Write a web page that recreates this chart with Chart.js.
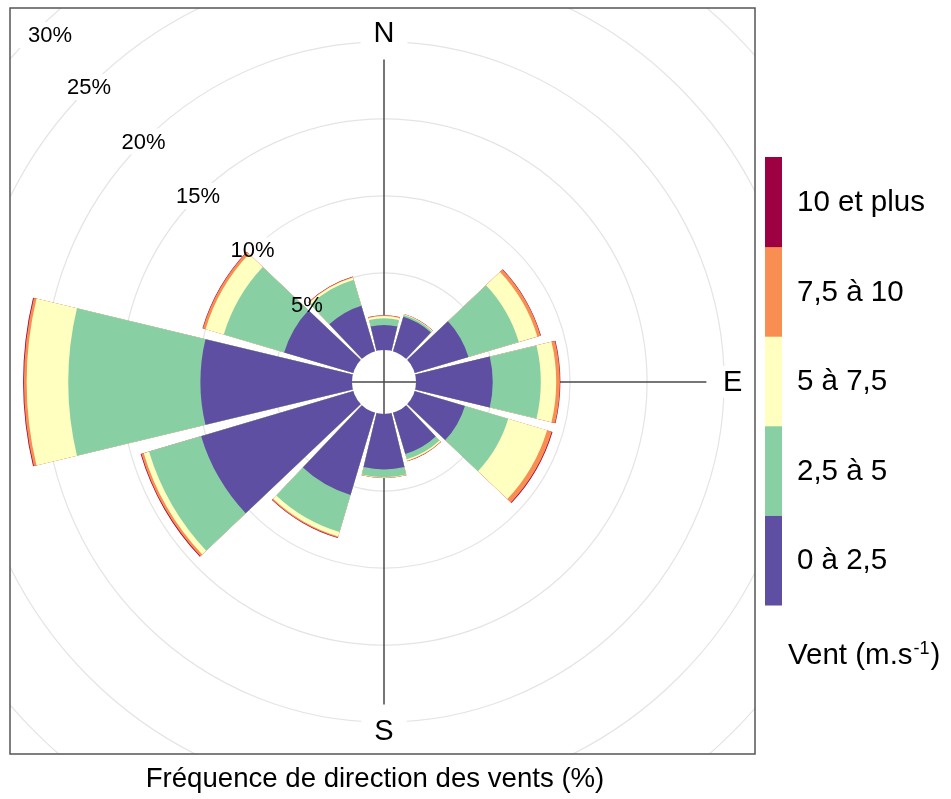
<!DOCTYPE html>
<html>
<head>
<meta charset="utf-8">
<script src="https://cdn.jsdelivr.net/npm/chart.js@4/dist/chart.umd.min.js"></script>
<style>
  html, body { margin: 0; padding: 0; background: #ffffff; }
  #wrap { width: 951px; height: 799px; position: relative; }
</style>
</head>
<body>
<div id="wrap"><canvas id="rose" width="951" height="799"></canvas></div>
<script>
// ---------- data ----------
const directions = [0, 30, 60, 90, 120, 150, 180, 210, 240, 270, 300, 330]; // sector centres, degrees
const speedBins = ['0 à 2,5', '2,5 à 5', '5 à 7,5', '7,5 à 10', '10 et plus'];
const binColors = ['#5E4FA2', '#89CFA4', '#FFFFBF', '#F88E52', '#9E0142'];
// frequency (%) per direction, per wind speed class
const freq_0_2_5   = [1.62, 2.34, 3.64, 4.98, 3.40, 2.80, 3.60, 5.57, 10.30, 9.84, 4.68, 3.08];
const freq_2_5_5   = [0.44, 0.11, 3.41, 3.12, 2.93, 0.35, 0.50, 2.51, 3.53, 8.58, 4.09, 1.77];
const freq_5_7_5   = [0.14, 0.05, 1.25, 1.00, 2.63, 0.10, 0.03, 0.30, 0.36, 2.70, 1.23, 0.15];
const freq_7_5_10  = [0.05, 0.02, 0.22, 0.24, 0.32, 0.03, 0.01, 0.07, 0.16, 0.18, 0.18, 0.05];
const freq_10_plus = [0.01, 0.01, 0.03, 0.03, 0.05, 0.01, 0.01, 0.04, 0.05, 0.05, 0.03, 0.01];
const radialTicks = [5, 10, 15, 20, 25, 30];
const compassLabels = [{ text: 'N', bearing: 0 }, { text: 'E', bearing: 90 }, { text: 'S', bearing: 180 }];
const titleText = 'Fréquence de direction des vents (%)';
const legendTitleMain = 'Vent (m.s';
const legendTitleSup = '-1';
const legendTitleEnd = ')';

// ---------- build library structures ----------
const binSeries = [freq_0_2_5, freq_2_5_5, freq_5_7_5, freq_7_5_10, freq_10_plus];
const cumulative = [];
binSeries.forEach((arr, b) => {
  cumulative.push(arr.map((v, i) => (b === 0 ? 0 : cumulative[b - 1][i]) + v));
});
const sectorAngle = 360 / directions.length;
const gapAngle = 3;
const barAngle = sectorAngle - gapAngle;

const labels = [];
directions.forEach(d => { labels.push(d + '°'); labels.push(''); });

const datasets = binSeries.map((_, b) => ({
  label: speedBins[b],
  data: directions.flatMap((d, i) => [cumulative[b][i], 0]),
  backgroundColor: ctx => (ctx.dataIndex % 2 === 0 ? binColors[b] : 'rgba(0,0,0,0)'),
  borderWidth: 0,
  angle: ctx => (ctx.dataIndex % 2 === 0 ? barAngle : gapAngle)
}));

const FONT = '"Liberation Sans", Arial, Helvetica, sans-serif';
const BOX = { left: 10, top: 8, right: 755, bottom: 754 };

function polarPoint(s, dist, bearingDeg) {
  const a = bearingDeg * Math.PI / 180;
  return { x: s.xCenter + dist * Math.sin(a), y: s.yCenter - dist * Math.cos(a) };
}

function tickLabelPos(s, v) {
  const p = polarPoint(s, s.getDistanceFromCenterForValue(v), 315);
  p.x = Math.max(p.x, BOX.left + 40);
  p.y = Math.max(p.y, BOX.top + 27);
  return p;
}

const roseDecor = {
  id: 'roseDecor',
  beforeDraw(chart) {
    const ctx = chart.ctx;
    ctx.save();
    ctx.beginPath();
    ctx.rect(BOX.left, BOX.top, BOX.right - BOX.left, BOX.bottom - BOX.top);
    ctx.clip();
  },
  beforeDatasetsDraw(chart) {
    const ctx = chart.ctx, s = chart.scales.r;
    const R = s.drawingArea;
    ctx.save();
    // white backdrops that break the grid circles under labels
    ctx.fillStyle = '#ffffff';
    ctx.font = '22px ' + FONT;
    radialTicks.forEach(v => {
      const p = tickLabelPos(s, v);
      const w = ctx.measureText(v + '%').width + 18;
      ctx.fillRect(p.x - w / 2, p.y - 13, w, 26);
    });
    ctx.font = '29px ' + FONT;
    compassLabels.forEach(c => {
      const p = polarPoint(s, R * 0.932, c.bearing);
      const w = ctx.measureText(c.text).width + 26;
      ctx.fillRect(p.x - w / 2, p.y - 16, w, 32);
    });
    // cross lines (under the bars)
    const L = R * 0.862;
    ctx.strokeStyle = '#4a4a4a';
    ctx.lineWidth = 1.5;
    ctx.beginPath();
    ctx.moveTo(s.xCenter, s.yCenter - L); ctx.lineTo(s.xCenter, s.yCenter + L);
    ctx.moveTo(s.xCenter - L, s.yCenter); ctx.lineTo(s.xCenter + L, s.yCenter);
    ctx.stroke();
    ctx.restore();
  },
  afterDatasetsDraw(chart) {
    const ctx = chart.ctx, s = chart.scales.r;
    const R = s.drawingArea;
    const r0 = s.getDistanceFromCenterForValue(0);
    ctx.save();
    // calm hole
    ctx.fillStyle = '#ffffff';
    ctx.beginPath();
    ctx.arc(s.xCenter, s.yCenter, r0, 0, Math.PI * 2);
    ctx.fill();
    ctx.strokeStyle = '#4a4a4a';
    ctx.lineWidth = 1.5;
    ctx.beginPath();
    ctx.moveTo(s.xCenter, s.yCenter - r0); ctx.lineTo(s.xCenter, s.yCenter + r0);
    ctx.moveTo(s.xCenter - r0, s.yCenter); ctx.lineTo(s.xCenter + r0, s.yCenter);
    ctx.stroke();
    // tick labels
    ctx.fillStyle = '#000000';
    ctx.textAlign = 'center';
    ctx.textBaseline = 'middle';
    ctx.font = '22px ' + FONT;
    radialTicks.forEach(v => {
      const p = tickLabelPos(s, v);
      ctx.fillText(v + '%', p.x, p.y + 1);
    });
    // compass labels
    ctx.font = '29px ' + FONT;
    compassLabels.forEach(c => {
      const p = polarPoint(s, R * 0.932, c.bearing);
      ctx.fillText(c.text, p.x, p.y + 1);
    });
    ctx.restore();
  },
  afterDraw(chart) {
    const ctx = chart.ctx;
    ctx.restore(); // end of clip started in beforeDraw
    ctx.save();
    // panel border
    ctx.strokeStyle = '#555555';
    ctx.lineWidth = 1.5;
    ctx.strokeRect(BOX.left, BOX.top, BOX.right - BOX.left, BOX.bottom - BOX.top);
    // colour key
    const kx = 765, kw = 17, ktop = 157, kbottom = 605;
    const n = speedBins.length;
    const bh = (kbottom - ktop) / n;
    ctx.font = '29.5px ' + FONT;
    ctx.textAlign = 'left';
    ctx.textBaseline = 'middle';
    for (let b = 0; b < n; b++) {
      const y0 = kbottom - (b + 1) * bh;
      ctx.fillStyle = binColors[b];
      ctx.fillRect(kx, y0, kw, bh + 0.5);
      ctx.fillStyle = '#000000';
      ctx.fillText(speedBins[b], 797, y0 + bh / 2 + 1);
    }
    // key title with superscript
    ctx.textBaseline = 'alphabetic';
    ctx.font = '29.5px ' + FONT;
    let x = 788;
    const base = 664;
    ctx.fillText(legendTitleMain, x, base);
    x += ctx.measureText(legendTitleMain).width + 1;
    ctx.font = '18px ' + FONT;
    ctx.fillText(legendTitleSup, x, base - 10);
    x += ctx.measureText(legendTitleSup).width + 1;
    ctx.font = '29.5px ' + FONT;
    ctx.fillText(legendTitleEnd, x, base);
    // bottom title
    ctx.textAlign = 'center';
    ctx.textBaseline = 'middle';
    ctx.font = '27.6px ' + FONT;
    ctx.fillText(titleText, 375, 779);
    ctx.restore();
  }
};

new Chart(document.getElementById('rose'), {
  type: 'polarArea',
  data: { labels, datasets },
  plugins: [roseDecor],
  options: {
    responsive: false,
    animation: false,
    layout: { padding: { left: 10, top: 8, right: 193, bottom: 43 } },
    plugins: {
      legend: { display: false },
      tooltip: { enabled: false },
      title: { display: false }
    },
    scales: {
      r: {
        min: -2.08,
        max: 22.2,
        startAngle: -barAngle / 2,
        ticks: { display: false },
        afterBuildTicks: scale => { scale.ticks = radialTicks.map(v => ({ value: v })); },
        grid: { display: true, circular: true, color: '#e4e4e4', lineWidth: 1.2 },
        angleLines: { display: false },
        pointLabels: { display: false }
      }
    }
  }
});
</script>
</body>
</html>
